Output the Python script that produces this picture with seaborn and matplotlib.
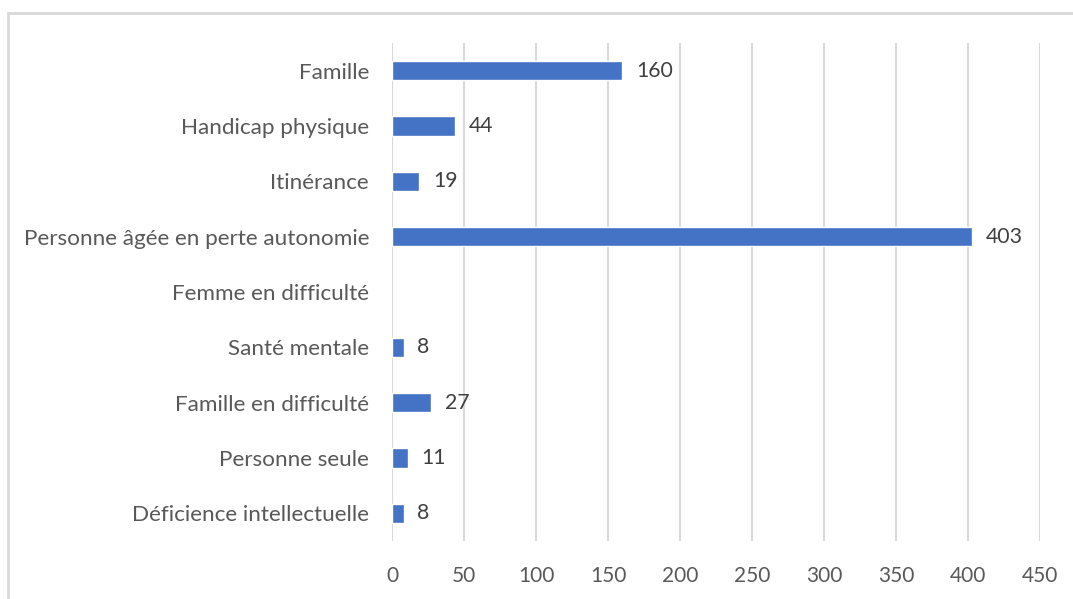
import numpy as np
import pandas as pd
import matplotlib
matplotlib.use("Agg")
import matplotlib.pyplot as plt
import seaborn as sns
from matplotlib.patches import Rectangle

categories = ["Famille", "Handicap physique", "Itinérance",
              "Personne âgée en perte autonomie", "Femme en difficulté",
              "Santé mentale", "Famille en difficulté", "Personne seule",
              "Déficience intellectuelle"]
values = [160, 44, 19, 403, np.nan, 8, 27, 11, 8]
x_ticks = [0, 50, 100, 150, 200, 250, 300, 350, 400, 450]

sns.set_theme(style="white")
plt.rcParams['font.family'] = ['Lato', 'DejaVu Sans']

df = pd.DataFrame({"cat": categories, "val": values})

fig = plt.figure(figsize=(10.73, 5.99), dpi=100)
ax = fig.add_axes([392/1073, 1-541/599, (1040-392)/1073, (541-43)/599])

sns.barplot(data=df, y="cat", x="val", orient="h", color="#4472C4",
            saturation=1, width=0.35, ax=ax, order=categories)

ax.set_xlim(0, 450)
ax.set_xticks(x_ticks)
ax.set_xticklabels([str(t) for t in x_ticks])
ax.xaxis.grid(True, color="#d9d9d9", linewidth=1.5)
ax.set_axisbelow(True)
for s in ax.spines.values():
    s.set_visible(False)
ax.set_xlabel("")
ax.set_ylabel("")
ax.tick_params(axis="y", length=0, pad=16.5, labelsize=16.2, labelcolor="#595959")
ax.tick_params(axis="x", length=0, pad=18, labelsize=15, labelcolor="#595959")

for i, v in enumerate(values):
    if not np.isnan(v):
        ax.annotate(f"{int(v)}", xy=(v, i), xytext=(10, 0), textcoords="offset points",
                    va="center", ha="left", fontsize=15.3, color="#404040")

fig.patches.append(Rectangle((8/1073, -0.1), 1.2, 1 - 13/599 + 0.1,
                             transform=fig.transFigure, fill=False,
                             edgecolor="#d9d9d9", linewidth=2))

fig.savefig("out.png", dpi=100)
